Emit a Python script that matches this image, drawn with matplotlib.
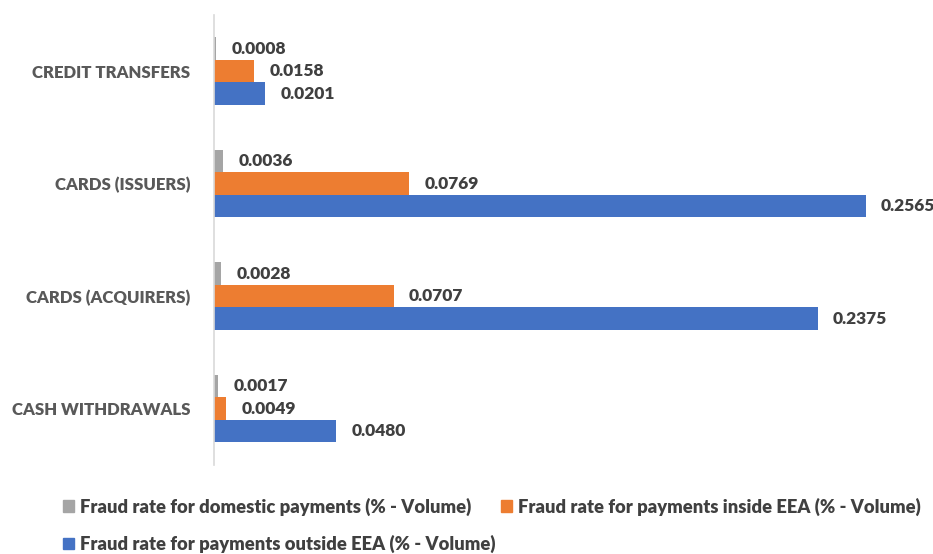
import numpy as np
import matplotlib.pyplot as plt
from matplotlib.patches import Patch

plt.rcParams['font.family'] = ['Lato', 'DejaVu Sans']
plt.rcParams['font.weight'] = 'bold'

categories = ['CREDIT TRANSFERS', 'CARDS (ISSUERS)', 'CARDS (ACQUIRERS)', 'CASH WITHDRAWALS']
domestic = [0.0008, 0.0036, 0.0028, 0.0017]
inside_eea = [0.0158, 0.0769, 0.0707, 0.0049]
outside_eea = [0.0201, 0.2565, 0.2375, 0.0480]

series = [
    ('Fraud rate for domestic payments (% - Volume)', domestic, '#A5A5A5'),
    ('Fraud rate for payments inside EEA (% - Volume)', inside_eea, '#ED7D31'),
    ('Fraud rate for payments outside EEA (% - Volume)', outside_eea, '#4472C4'),
]

fig = plt.figure(figsize=(9.33, 5.54), dpi=100)
ax = fig.add_axes([0.2294, 0.161, 0.7626, 0.812])

y = np.arange(len(categories))
h = 0.2
for k, (name, vals, col) in enumerate(series):
    pos = y + (k - 1) * h
    ax.barh(pos, vals, height=h, color=col, label=name)
    for p, v in zip(pos, vals):
        ax.annotate(f'{v:.4f}', (v, p), xytext=(11, 0), textcoords='offset points',
                    va='center', ha='left', fontsize=12.5, color='#404040',
                    fontweight='heavy', annotation_clip=False)

ax.set_ylim(3.5, -0.5)
ax.set_xlim(0, 0.28)
ax.set_yticks(y)
ax.set_yticklabels(categories, fontsize=12.1, color='#595959', fontweight='heavy')
ax.tick_params(axis='y', length=0, pad=17)
ax.set_xticks([])
for s in ['top', 'right', 'bottom']:
    ax.spines[s].set_visible(False)
ax.spines['left'].set_color('#d9d9d9')
ax.spines['left'].set_linewidth(1.2)

handles = [Patch(color=c, label=n) for n, _, c in series]
order = [handles[0], handles[2], handles[1]]
leg = fig.legend(handles=order, ncol=2, loc='lower left', bbox_to_anchor=(0.05, -0.028),
                 frameon=False, fontsize=13.2, handlelength=0.6, handleheight=0.6,
                 handletextpad=0.3, columnspacing=0.33, labelspacing=1.05)
for t in leg.get_texts():
    t.set_color('#404040')
    t.set_fontweight('heavy')

fig.savefig('out.png', dpi=100)
